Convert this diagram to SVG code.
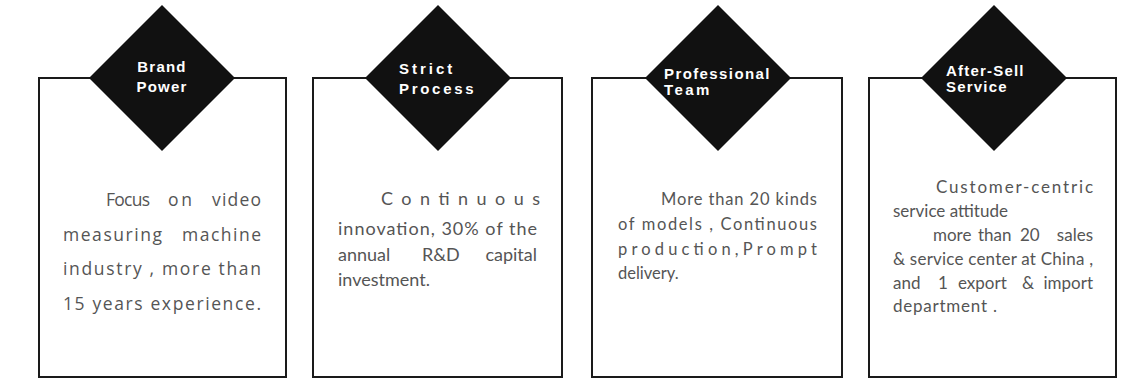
<svg xmlns="http://www.w3.org/2000/svg" width="1128" height="380" viewBox="0 0 1128 380">
<style>
.box{fill:#fff;stroke:#1a1a1a;stroke-width:2}
.dia{fill:#111}
.lbl{font-family:"Liberation Sans",Arial,sans-serif;font-weight:bold;font-size:15px;fill:#fff}
.b1{font-family:"Open Sans","Noto Sans",sans-serif;font-size:17.5px;fill:#555;letter-spacing:1px}
.b2{font-family:Lato,"Open Sans",sans-serif;font-size:17px;fill:#555}
.p2{font-size:18px}
.p3{font-size:16.5px}
.e{text-anchor:end}
</style>
<rect width="1128" height="380" fill="#fff"/>
<g id="connectors"></g>
<g id="brand-power">
<rect class="box" x="39" y="78" width="247" height="299"/>
<polygon class="dia" points="162,5 235,78 162,151 89,78"/>
<text class="lbl" x="162" y="72" text-anchor="middle" letter-spacing="1.2">Brand</text>
<text class="lbl" x="162" y="92" text-anchor="middle" letter-spacing="1.2">Power</text>
<text class="b1" x="106" y="206" textLength="45" lengthAdjust="spacing">Focus</text>
<text class="b1" x="168" y="206" textLength="25" lengthAdjust="spacing">on</text>
<text class="b1" x="212" y="206" textLength="50" lengthAdjust="spacing">video</text>
<text class="b1" x="63" y="241" textLength="100" lengthAdjust="spacing">measuring</text>
<text class="b1" x="182" y="241" textLength="80" lengthAdjust="spacing">machine</text>
<text class="b1" x="63" y="275" textLength="199" lengthAdjust="spacing">industry , more than</text>
<text class="b1" x="63" y="310" textLength="199" lengthAdjust="spacing">15 years experience.</text>
</g>
<g id="strict-process">
<rect class="box" x="313" y="78" width="249" height="299"/>
<polygon class="dia" points="438,5 511,78 438,151 365,78"/>
<text class="lbl" x="399" y="74" letter-spacing="3">Strict</text>
<text class="lbl" x="399" y="94" letter-spacing="2.7">Process</text>
<text class="b2 p2" x="381" y="205" textLength="159" lengthAdjust="spacing">Continuous</text>
<text class="b2 p2" x="338" y="235" textLength="199" lengthAdjust="spacing">innovation, 30% of the</text>
<text class="b2 p2" x="338" y="261">annual</text>
<text class="b2 p2" x="422" y="261">R&amp;D</text>
<text class="b2 p2 e" x="537" y="261">capital</text>
<text class="b2 p2" x="338" y="286">investment.</text>
</g>
<g id="professional-team">
<rect class="box" x="592" y="78" width="250" height="299"/>
<polygon class="dia" points="718,5 791,78 718,151 645,78"/>
<text class="lbl" x="664" y="79" letter-spacing="1.4">Professional</text>
<text class="lbl" x="664" y="95" letter-spacing="2.4">Team</text>
<text class="b2 p3" x="661" y="205" textLength="156" lengthAdjust="spacing">More than 20 kinds</text>
<text class="b2 p3" x="618" y="230" textLength="199" lengthAdjust="spacing">of models , Continuous</text>
<text class="b2 p3" x="618" y="255" textLength="199" lengthAdjust="spacing">production,Prompt</text>
<text class="b2 p3" x="618" y="279">delivery.</text>
</g>
<g id="after-sell-service">
<rect class="box" x="869" y="78" width="247" height="299"/>
<polygon class="dia" points="994,5 1067,78 994,151 921,78"/>
<text class="lbl" x="946" y="76" letter-spacing="1.2">After-Sell</text>
<text class="lbl" x="946" y="92" letter-spacing="1.2">Service</text>
<text class="b2" x="936" y="193" textLength="157" lengthAdjust="spacing">Customer-centric</text>
<text class="b2" x="893" y="217">service attitude</text>
<text class="b2" x="933" y="241">more</text>
<text class="b2" x="978" y="241">than</text>
<text class="b2" x="1020" y="241">20</text>
<text class="b2 e" x="1093" y="241">sales</text>
<text class="b2" x="893" y="265" textLength="200" lengthAdjust="spacing">&amp; service center at China ,</text>
<text class="b2" x="893" y="289">and</text>
<text class="b2" x="938" y="289">1</text>
<text class="b2" x="958" y="289">export</text>
<text class="b2" x="1022" y="289">&amp;</text>
<text class="b2 e" x="1093" y="289">import</text>
<text class="b2" x="893" y="312" textLength="104" lengthAdjust="spacing">department .</text>
</g>
</svg>
